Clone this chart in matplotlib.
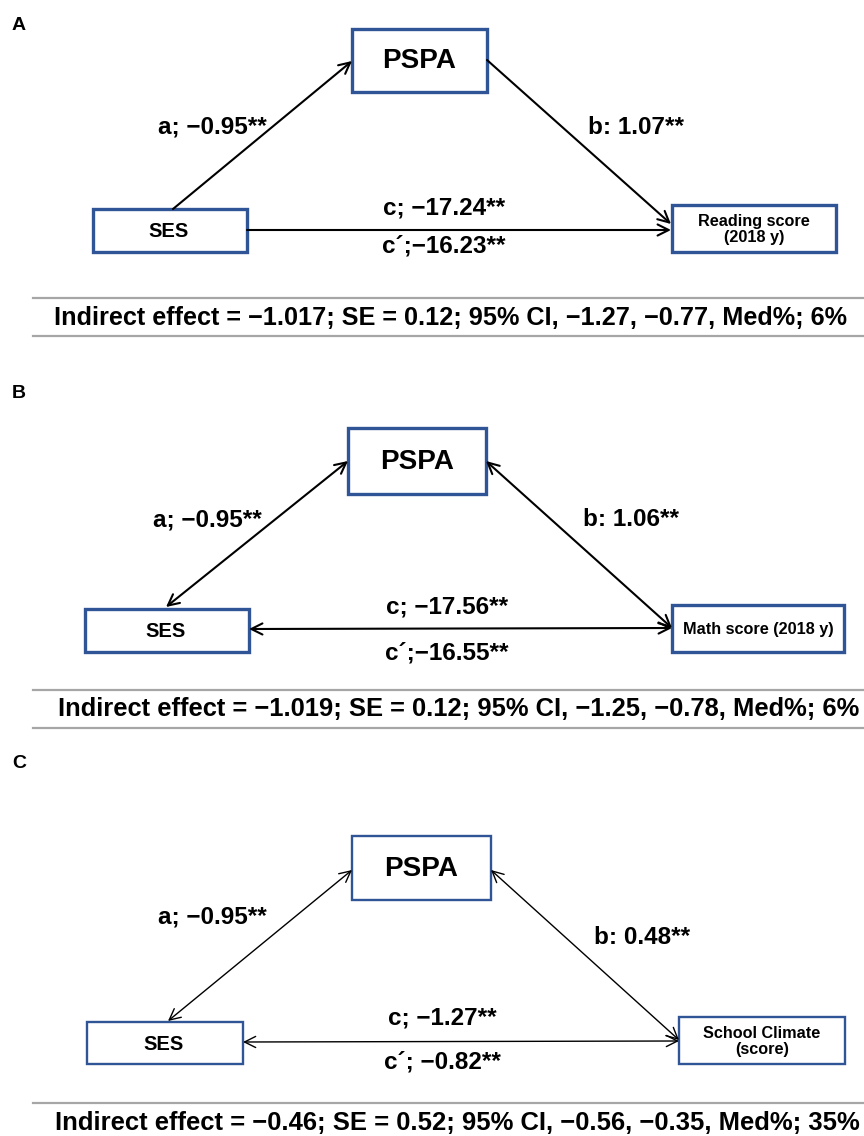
import matplotlib
matplotlib.use("Agg")
import matplotlib.pyplot as plt
from matplotlib.patches import Rectangle

plt.rcParams['font.family'] = ['Liberation Sans', 'DejaVu Sans']

# ---- data ----
panel_letters = ['A', 'B', 'C']
mediator = 'PSPA'
predictor = 'SES'
outcomes = ['Reading score\n(2018 y)', 'Math score (2018 y)', 'School Climate\n(score)']
a_labels = ['a; \u22120.95**', 'a; \u22120.95**', 'a; \u22120.95**']
b_labels = ['b: 1.07**', 'b: 1.06**', 'b: 0.48**']
c_labels = ['c; \u221217.24**', 'c; \u221217.56**', 'c; \u22121.27**']
cp_labels = ['c\u00b4;\u221216.23**', 'c\u00b4;\u221216.55**', 'c\u00b4; \u22120.82**']
indirect = ['Indirect effect = \u22121.017; SE = 0.12; 95% CI, \u22121.27, \u22120.77, Med%; 6%',
            'Indirect effect = \u22121.019; SE = 0.12; 95% CI, \u22121.25, \u22120.78, Med%; 6%',
            'Indirect effect = \u22120.46; SE = 0.52; 95% CI, \u22120.56, \u22120.35, Med%; 35%']
arrow_styles = ['->', '<->', '<->']

# ---- layout (pixel coords) ----
letter_pos = [(12, 26), (12, 394), (12, 764)]
med_box = [(352, 29, 135, 63), (348, 428, 138, 66), (352, 836, 139, 64)]
pred_box = [(93, 209, 154, 43), (85, 609, 164, 43), (87, 1022, 156, 42)]
out_box = [(672, 205, 164, 47), (672, 605, 172, 47), (679, 1017, 166, 47)]
a_line = [((173, 209), (352, 61)), ((166, 607), (348, 461)), ((168, 1021), (352, 870))]
b_line = [((487, 60), (671, 224)), ((486, 461), (672, 628)), ((491, 870), (679, 1040))]
c_line = [((247, 230), (671, 230)), ((249, 629), (672, 628)), ((243, 1042), (679, 1041))]
a_txt = [(212, 127), (207, 520), (212, 917)]
b_txt = [(636, 127), (631, 520), (642, 937)]
c_txt = [(444, 208), (447, 607), (442, 1018)]
cp_txt = [(444, 246), (447, 653), (442, 1062)]
sep_lines = [[298, 336], [690, 728], [1103]]
ind_pos = [(54, 318), (58, 709), (55, 1123)]
ind_size = [18.2, 18.4, 18.45]
arrow_lw = [1.5, 1.5, 1.0]
box_lw = [2.4, 2.4, 1.7]

BLUE = '#2F5597'

fig = plt.figure(figsize=(8.64, 11.36), dpi=100)
ax = fig.add_axes([0, 0, 1, 1])
ax.set_xlim(0, 864)
ax.set_ylim(1136, 0)
ax.axis('off')

for i in range(3):
    ax.text(*letter_pos[i], panel_letters[i], fontsize=14, fontweight='bold',
            ha='left', va='center')
    for (x, y, w, h) in (med_box[i], pred_box[i], out_box[i]):
        ax.add_patch(Rectangle((x, y), w, h, facecolor='white', edgecolor=BLUE,
                               lw=box_lw[i], zorder=3))
    mx, my, mw, mh = med_box[i]
    ax.text(mx + mw / 2, my + mh / 2 + 1, mediator, fontsize=20, fontweight='bold',
            ha='center', va='center', zorder=4)
    px, py, pw, ph = pred_box[i]
    ax.text(px + pw / 2 - 1, py + ph / 2 + 1, predictor, fontsize=14.5, fontweight='bold',
            ha='center', va='center', zorder=4)
    ox, oy, ow, oh = out_box[i]
    ax.text(ox + ow / 2, oy + oh / 2 + 1, outcomes[i], fontsize=11.7, fontweight='bold',
            ha='center', va='center', linespacing=1.1, zorder=4)
    for (s, e) in (a_line[i], b_line[i], c_line[i]):
        ax.annotate('', xy=e, xytext=s,
                    arrowprops=dict(arrowstyle=arrow_styles[i], lw=arrow_lw[i],
                                    color='black', shrinkA=0, shrinkB=0,
                                    mutation_scale=20))
    for (pos, lab) in ((a_txt[i], a_labels[i]), (b_txt[i], b_labels[i]),
                       (c_txt[i], c_labels[i]), (cp_txt[i], cp_labels[i])):
        ax.text(*pos, lab, fontsize=17.5, fontweight='bold', ha='center', va='center')
    for y in sep_lines[i]:
        ax.plot([33, 864], [y, y], color='#A6A6A6', lw=1.6)
    ax.text(*ind_pos[i], indirect[i], fontsize=ind_size[i], fontweight='bold', ha='left',
            va='center')

fig.savefig('out.png', dpi=100)
